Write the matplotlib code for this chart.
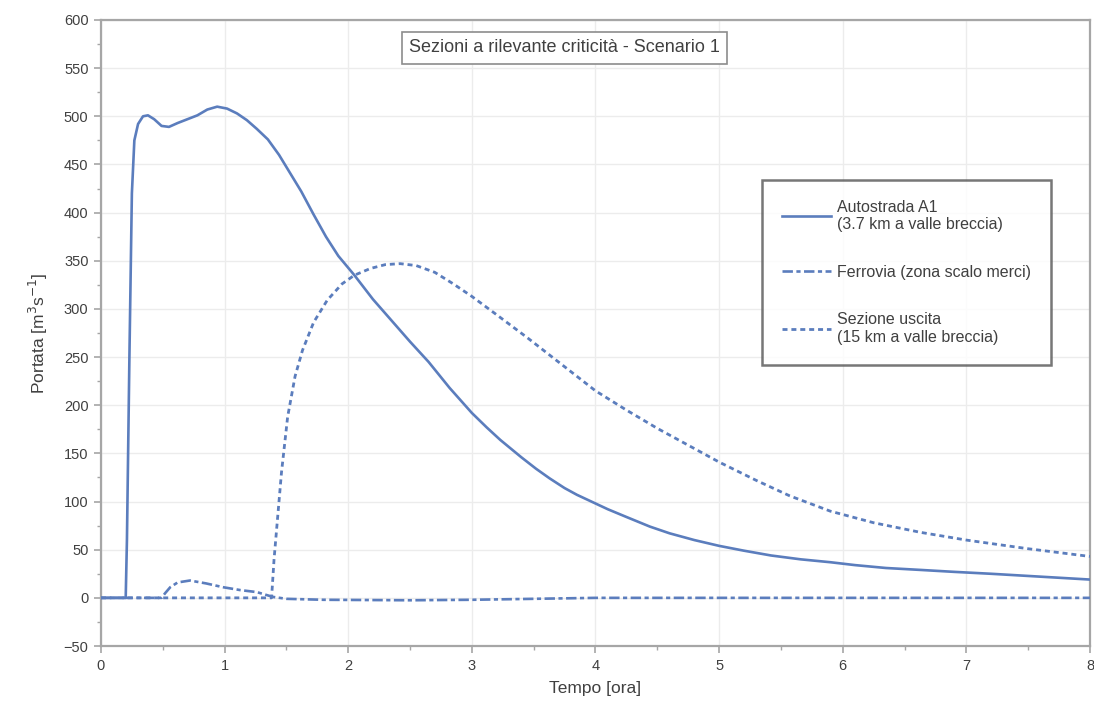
import matplotlib
matplotlib.use("Agg")
import matplotlib.pyplot as plt
from matplotlib.ticker import MultipleLocator

# Flow hydrographs at the critical sections (time in hours, discharge in m3/s)
t_autostrada = [0.0, 0.2, 0.21, 0.23, 0.25, 0.27, 0.30, 0.34, 0.38, 0.43, 0.49, 0.55,
                0.62, 0.70, 0.78, 0.86, 0.94, 1.02, 1.10, 1.18, 1.26, 1.35, 1.44,
                1.53, 1.62, 1.72, 1.82, 1.92, 2.05, 2.20, 2.35, 2.50, 2.65, 2.82,
                3.00, 3.12, 3.23, 3.40, 3.52, 3.63, 3.75, 3.85, 4.00, 4.10, 4.25,
                4.44, 4.60, 4.80, 5.00, 5.20, 5.42, 5.66, 5.90, 6.10, 6.35, 6.63,
                6.90, 7.20, 7.60, 8.00]
q_autostrada = [0, 0, 60, 250, 420, 475, 492, 500, 501, 497, 490, 489,
                493, 497, 501, 507, 510, 508, 503, 496, 487, 476, 460,
                441, 422, 398, 375, 355, 335, 310, 288, 266, 245, 218,
                192, 177, 164, 146, 134, 124, 114, 107, 98, 92, 84,
                74, 67, 60, 54, 49, 44, 40, 37, 34, 31, 29,
                27, 25, 22, 19]

t_ferrovia = [0.0, 0.49, 0.52, 0.56, 0.62, 0.72, 0.85, 0.99, 1.13, 1.26, 1.39,
              1.50, 1.80, 2.50, 3.00, 3.50, 4.00, 8.00]
q_ferrovia = [0, 0, 5, 11, 16, 18, 15, 11, 8, 6, 1,
              -1, -2, -2.5, -2, -1, 0, 0]

t_uscita = [0.0, 1.38, 1.40, 1.43, 1.46, 1.51, 1.57, 1.63, 1.72, 1.83, 1.95, 2.05,
            2.18, 2.30, 2.42, 2.55, 2.70, 2.85, 3.00, 3.20, 3.45, 3.71, 4.00,
            4.25, 4.50, 4.80, 5.00, 5.30, 5.57, 5.90, 6.25, 6.63, 7.00, 7.50, 8.00]
q_uscita = [0, 0, 40, 85, 130, 188, 230, 257, 286, 309, 326, 335,
            342, 346, 347, 345, 338, 326, 313, 294, 270, 244, 215,
            195, 176, 155, 141, 122, 106, 90, 78, 68, 60, 51, 43]

labels = ["Autostrada A1\n(3.7 km a valle breccia)",
          "Ferrovia (zona scalo merci)",
          "Sezione uscita\n(15 km a valle breccia)"]

title_text = "Sezioni a rilevante criticità - Scenario 1"

plt.rcParams["font.family"] = ["Liberation Sans", "DejaVu Sans"]
plt.rcParams["lines.scale_dashes"] = False

line_col = "#5b7dbd"
text_col = "#404040"
spine_col = "#a6a6a6"
grid_col = "#ececec"

fig = plt.figure(figsize=(10.94, 7.11), dpi=100)
ax = fig.add_axes([0.0923, 0.0914, 0.9040, 0.8805])

l1, = ax.plot(t_autostrada, q_autostrada, color=line_col, lw=1.9,
              solid_joinstyle="round", zorder=4)
l2, = ax.plot(t_ferrovia, q_ferrovia, color=line_col, lw=1.9,
              dashes=(7.5, 2.5, 3.0, 2.5), zorder=3)
l3, = ax.plot(t_uscita, q_uscita, color=line_col, lw=2.0,
              dashes=(3.6, 2.8), zorder=3)

ax.set_xlim(0, 8)
ax.set_ylim(-50, 600)
ax.xaxis.set_major_locator(MultipleLocator(1))
ax.xaxis.set_minor_locator(MultipleLocator(0.5))
ax.yaxis.set_major_locator(MultipleLocator(50))
ax.yaxis.set_minor_locator(MultipleLocator(25))
ax.grid(True, which="major", color=grid_col, lw=1.0, zorder=0)
ax.set_axisbelow(True)

for s in ax.spines.values():
    s.set_color(spine_col)
    s.set_linewidth(1.6)

ax.tick_params(axis="both", which="major", direction="out", length=5,
               width=1.2, color=spine_col, labelsize=10.5, labelcolor=text_col, pad=4)
ax.tick_params(axis="both", which="minor", direction="out", length=3,
               width=1.0, color=spine_col)

ax.set_xlabel("Tempo [ora]", fontsize=12.5, color=text_col, labelpad=6)
ax.set_ylabel("Portata [m$^3$s$^{-1}$]", fontsize=12.5, color=text_col, labelpad=10)

ax.text(3.75, 571, title_text, ha="center", va="center", fontsize=13,
        color=text_col,
        bbox=dict(boxstyle="square,pad=0.4", fc="white", ec="#8c8c8c", lw=1.2),
        zorder=6)

leg = ax.legend([l1, l2, l3], labels, loc="upper left",
                bbox_to_anchor=(0.668, 0.745), fontsize=11.5, frameon=True,
                fancybox=False, edgecolor="#555555", handlelength=3.1,
                handletextpad=0.4, labelspacing=2.05, borderpad=1.25,
                borderaxespad=0)
leg.get_frame().set_linewidth(1.8)
for txt in leg.get_texts():
    txt.set_color(text_col)
leg.set_zorder(7)

fig.savefig("out.png", dpi=100, facecolor="white")
